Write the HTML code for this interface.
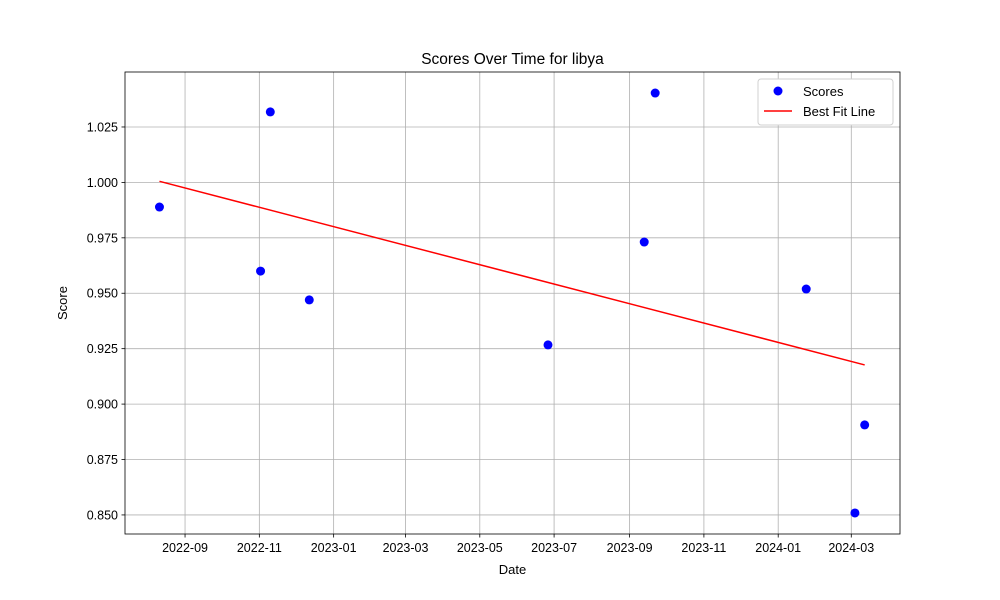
<!DOCTYPE html>
<html><head><meta charset="utf-8"><style>
html,body{margin:0;padding:0;background:#fff;}
svg{display:block;font-family:"Liberation Sans","DejaVu Sans",sans-serif;}
</style></head><body>
<svg id="chart" width="1000" height="600"></svg>
<script>
const dates=["2022-08-11","2022-11-02","2022-11-10","2022-12-12","2023-06-26","2023-09-13","2023-09-22","2024-01-24","2024-03-04","2024-03-12"];
const scores=[0.9889,0.9600,1.0318,0.9470,0.9267,0.9731,1.0403,0.9519,0.8509,0.8906];
const xTicks=["2022-09","2022-11","2023-01","2023-03","2023-05","2023-07","2023-09","2023-11","2024-01","2024-03"];
const yTicks=[0.850,0.875,0.900,0.925,0.950,0.975,1.000,1.025];

const NS="http://www.w3.org/2000/svg";
const svg=document.getElementById('chart');
const L=125,R=900,T=72,B=534;
const day=s=>Date.parse(s+(s.length==7?"-01":"")+"T00:00:00Z")/86400000;
const d0=day("2022-09-01");
const xmin=d0-49.3,xmax=d0+587;
const ymin=0.8414,ymax=1.0498;
const X=d=>L+(d-xmin)/(xmax-xmin)*(R-L);
const Y=v=>B-(v-ymin)/(ymax-ymin)*(B-T);
function el(tag,attrs,txt){const e=document.createElementNS(NS,tag);for(const k in attrs)e.setAttribute(k,attrs[k]);if(txt!=null)e.textContent=txt;svg.appendChild(e);return e;}

// grid + ticks
xTicks.forEach(t=>{const x=X(day(t));
 let g=el('line',{x1:x,x2:x,y1:T,y2:B,stroke:'#b0b0b0','stroke-width':0.8});
 
 
 el('line',{x1:x,x2:x,y1:B,y2:B+3.5,stroke:'#000','stroke-width':0.8});
 let tx=el('text',{x:x,y:B+18,'text-anchor':'middle','font-size':12.5,fill:'#000'},t);
 
 
});
yTicks.forEach(v=>{const y=Y(v);
 let g=el('line',{x1:L,x2:R,y1:y,y2:y,stroke:'#b0b0b0','stroke-width':0.8});
 
 
 el('line',{x1:L-3.5,x2:L,y1:y,y2:y,stroke:'#000','stroke-width':0.8});
 let tx=el('text',{x:L-7,y:y+4.5,'text-anchor':'end','font-size':12.5,fill:'#000'},v.toFixed(3));
 
 
});

// points
dates.forEach((d,i)=>{
 let c=el('circle',{cx:X(day(d)),cy:Y(scores[i]),r:4.5,fill:'#0000ff'});
 
 
});

// best fit
const xs=dates.map(day),n=xs.length;
const mx=xs.reduce((a,b)=>a+b)/n,my=scores.reduce((a,b)=>a+b)/n;
let sxy=0,sxx=0;xs.forEach((x,i)=>{sxy+=(x-mx)*(scores[i]-my);sxx+=(x-mx)**2;});
const m=sxy/sxx,b=my-m*mx;
const xa=Math.min(...xs),xb=Math.max(...xs);
let fl=el('line',{x1:X(xa),y1:Y(m*xa+b),x2:X(xb),y2:Y(m*xb+b),stroke:'#ff0000','stroke-width':1.5});



// frame
let fr=el('rect',{x:L,y:T,width:R-L,height:B-T,fill:'none',stroke:'#000','stroke-width':0.8});



// titles
let tt=el('text',{x:(L+R)/2,y:T-8,'text-anchor':'middle','font-size':15.5,fill:'#000'},'Scores Over Time for libya');


let xl=el('text',{x:(L+R)/2,y:574,'text-anchor':'middle','font-size':13,fill:'#000'},'Date');


let yl=el('text',{x:67,y:(T+B)/2,'text-anchor':'middle','font-size':13,fill:'#000',transform:`rotate(-90 67 ${(T+B)/2})`},'Score');



// legend
let lg=el('rect',{x:758,y:79,width:135,height:46,rx:3,fill:'#fff',stroke:'#d0d0d0','stroke-width':1});


el('circle',{cx:778,cy:91,r:4.5,fill:'#0000ff'});
let l1=el('text',{x:803,y:96,'font-size':13,fill:'#000'},'Scores');


el('line',{x1:764,x2:792,y1:111,y2:111,stroke:'#ff0000','stroke-width':1.5});
let l2=el('text',{x:803,y:116,'font-size':13,fill:'#000'},'Best Fit Line');


</script>
</body></html>
